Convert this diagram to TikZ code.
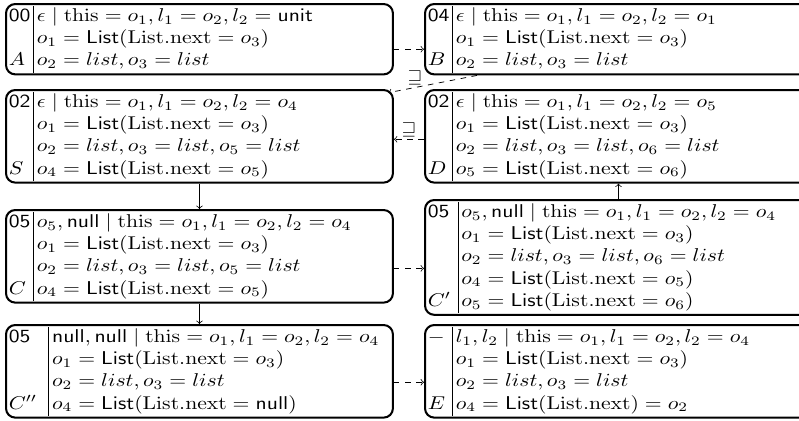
\documentclass[tikz,border=0pt]{standalone}
\usepackage{amsmath,amssymb,graphicx}
\setlength{\arraycolsep}{1.5pt}
\newcommand{\sfw}[1]{\mathsf{#1}}
\newcommand{\rmw}[1]{\mathrm{#1}}
\newcommand{\lst}{\sfw{List}(\rmw{List.next}}
\newcommand{\lab}[2]{\makebox[#1][l]{$#2$}}
\newcommand{\bxc}[1]{\scalebox{1.17}[1]{\makebox[176pt][l]{$\begin{array}{@{}l|l@{}}#1\end{array}$}}}
\begin{document}
\begin{tikzpicture}[x=0.54pt,y=-0.54pt,
  box/.style={draw, line width=1.1pt, rounded corners=5pt, inner xsep=1.5pt, inner ysep=1pt, anchor=north west},
  conn/.style={->, line width=0.4pt},
  dconn/.style={->, dashed, line width=0.4pt},
  lbl/.style={inner sep=1pt}]
\useasboundingbox (0,0) rectangle (799,420);
\clip (0,0) rectangle (799,420);

\node[box] (A) at (5,3) {\bxc{
\sfw{00} & \epsilon \mid \rmw{this} = o_1, l_1 = o_2, l_2 = \sfw{unit} \\
 & o_1 = \lst = o_3) \\
A & o_2 = list, o_3 = list}};

\node[box] (B) at (424,3) {\bxc{
\sfw{04} & \epsilon \mid \rmw{this} = o_1, l_1 = o_2, l_2 = o_1 \\
 & o_1 = \lst = o_3) \\
B & o_2 = list, o_3 = list}};

\node[box] (S) at (5,89) {\bxc{
\sfw{02} & \epsilon \mid \rmw{this} = o_1, l_1 = o_2, l_2 = o_4 \\
 & o_1 = \lst = o_3) \\
 & o_2 = list, o_3 = list, o_5 = list \\
S & o_4 = \lst = o_5)}};

\node[box] (D) at (424,89) {\bxc{
\sfw{02} & \epsilon \mid \rmw{this} = o_1, l_1 = o_2, l_2 = o_5 \\
 & o_1 = \lst = o_3) \\
 & o_2 = list, o_3 = list, o_6 = list \\
D & o_5 = \lst = o_6)}};

\node[box] (C) at (5,209) {\bxc{
\sfw{05} & o_5, \sfw{null} \mid \rmw{this} = o_1, l_1 = o_2, l_2 = o_4 \\
 & o_1 = \lst = o_3) \\
 & o_2 = list, o_3 = list, o_5 = list \\
C & o_4 = \lst = o_5)}};

\node[box] (Cp) at (424,199) {\bxc{
\lab{12.5pt}{\sfw{05}} & o_5, \sfw{null} \mid \rmw{this} = o_1, l_1 = o_2, l_2 = o_4 \\
 & o_1 = \lst = o_3) \\
 & o_2 = list, o_3 = list, o_6 = list \\
 & o_4 = \lst = o_5) \\
C' & o_5 = \lst = o_6)}};

\node[box] (Cpp) at (5,324) {\bxc{
\lab{17pt}{\sfw{05}} & \sfw{null}, \sfw{null} \mid \rmw{this} = o_1, l_1 = o_2, l_2 = o_4 \\
 & o_1 = \lst = o_3) \\
 & o_2 = list, o_3 = list \\
C'' & o_4 = \lst = \sfw{null})}};

\node[box] (E) at (424,324) {\bxc{
\lab{10pt}{-} & l_1, l_2 \mid \rmw{this} = o_1, l_1 = o_2, l_2 = o_4 \\
 & o_1 = \lst = o_3) \\
 & o_2 = list, o_3 = list \\
E & o_4 = \lst) = o_2}};

\draw[dconn] ([yshift=-5.4pt]A.east) -- ([yshift=-5.4pt]A.east -| B.west);
\draw[dconn] ([xshift=28.6pt]B.south west) -- ([xshift=-3pt,yshift=-2pt]S.north east)
  node[pos=0.7, above, lbl] (g1) {$\sqsupseteq$};
\draw[dconn] ([yshift=-1.6pt]D.west) -- ([yshift=-1.6pt]D.west -| S.east)
  node[midway, above, lbl] (g2) {$\sqsupseteq$};
\draw[conn] (S.south) -- (C.north);
\draw[conn] (C.south) -- (Cpp.north);
\draw[conn] (Cp.north) -- (D.south);
\draw[dconn] ([yshift=-6.5pt]C.east) -- ([yshift=-6.5pt]C.east -| Cp.west);
\draw[dconn] ([yshift=-5.9pt]Cpp.east) -- ([yshift=-5.9pt]Cpp.east -| E.west);
\end{tikzpicture}
\end{document}
